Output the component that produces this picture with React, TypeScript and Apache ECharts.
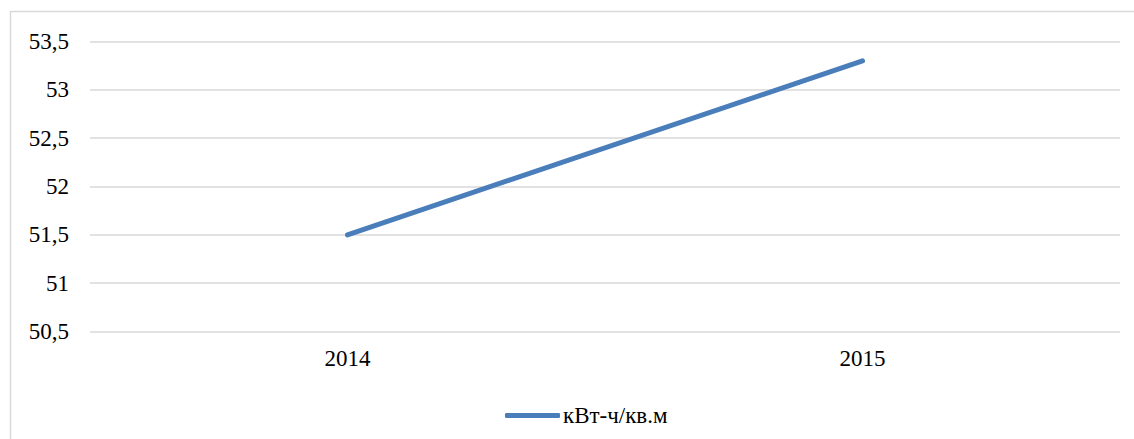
import React, { useEffect, useRef } from "react";
import * as echarts from "echarts";

const categories = ["2014", "2015"];
const seriesName = "кВт-ч/кв.м";
const values = [51.5, 53.3];
const yMin = 50.5;
const yMax = 53.5;
const yInterval = 0.5;

export default function App() {
  const ref = useRef<HTMLDivElement>(null);
  useEffect(() => {
    if (!ref.current) return;
    const chart = echarts.init(ref.current, null, { renderer: "svg" });
    const font = "Liberation Serif";
    chart.setOption({
      animation: false,
      backgroundColor: "#ffffff",
      textStyle: { fontFamily: font },
      graphic: [
        {
          type: "rect",
          shape: { x: 10.5, y: 11.5, width: 1140, height: 450 },
          style: { fill: "none", stroke: "#d9d9d9", lineWidth: 1.5 },
          silent: true,
        },
      ],
      grid: { left: 90, right: 14, top: 41.5, bottom: 107.5, containLabel: false },
      xAxis: {
        type: "category",
        data: categories,
        boundaryGap: true,
        axisLine: { show: false },
        axisTick: { show: false },
        axisLabel: { color: "#000", fontSize: 23, fontFamily: font, margin: 15 },
        splitLine: { show: false },
      },
      yAxis: {
        type: "value",
        min: yMin,
        max: yMax,
        interval: yInterval,
        axisLine: { show: false },
        axisTick: { show: false },
        axisLabel: {
          color: "#000",
          fontSize: 23,
          fontFamily: font,
          margin: 21,
          formatter: (v: number) => String(v).replace(".", ","),
        },
        splitLine: { lineStyle: { color: "#d9d9d9", width: 1.5 } },
      },
      legend: {
        data: [seriesName],
        left: 500,
        top: 399,
        icon: "roundRect",
        itemWidth: 55,
        itemHeight: 5,
        itemGap: 10,
        textStyle: { color: "#000", fontSize: 23, fontFamily: font, padding: [0, 0, 0, -2] },
      },
      series: [
        {
          name: seriesName,
          type: "line",
          data: values,
          symbol: "none",
          lineStyle: { color: "#4a7ebb", width: 5, cap: "round" },
          itemStyle: { color: "#4a7ebb" },
        },
      ],
    });
    return () => chart.dispose();
  }, []);
  return (
    <div
      ref={ref}
      style={{ position: "absolute", left: 0, top: 0, width: 1134, height: 439 }}
    />
  );
}
